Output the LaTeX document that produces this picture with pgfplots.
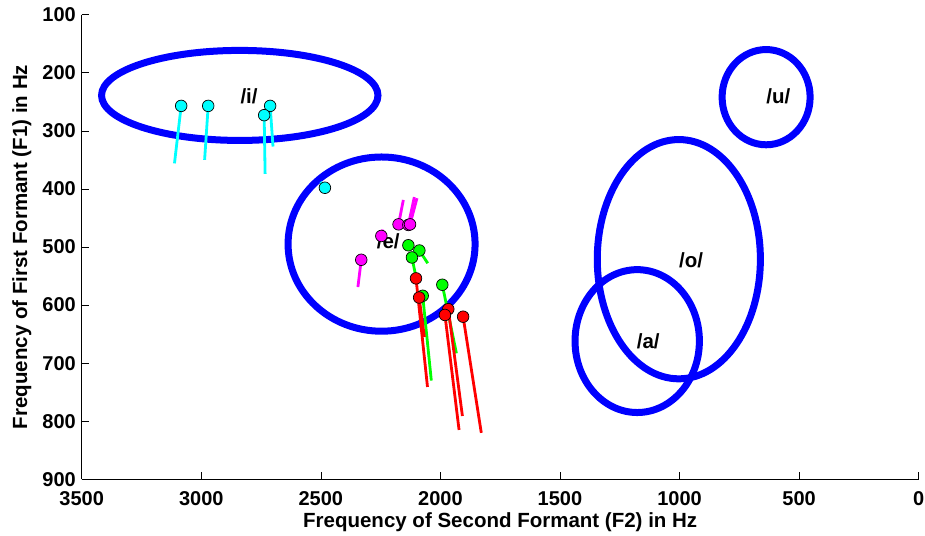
\documentclass[border=0pt]{standalone}
\usepackage{fontspec}
\setmainfont{Liberation Sans}
\usepackage{pgfplots}
\pgfplotsset{compat=1.18}
\definecolor{cB}{RGB}{0,0,255}
\definecolor{cC}{RGB}{0,255,255}
\definecolor{cM}{RGB}{255,0,255}
\definecolor{cG}{RGB}{0,255,0}
\definecolor{cR}{RGB}{255,0,0}
\newcommand{\tickfont}{\bfseries\fontsize{20}{24}\selectfont}
\newcommand{\labfont}{\bfseries\fontsize{20.5}{24}\selectfont}
\begin{document}
\begin{tikzpicture}
\begin{axis}[
  name=ax,
  scale only axis, width=837pt, height=464.6pt,
  xmin=0, xmax=3500, ymin=100, ymax=900,
  x dir=reverse, y dir=reverse,
  axis x line*=bottom, axis y line*=left,
  axis line style={-, black, line width=0.8pt},
  tick align=inside,
  major tick length=7pt,
  tick style={black, line width=0.6pt},
  xtick={0,500,...,3500}, ytick={100,200,...,900},
  scaled ticks=false,
  /pgf/number format/1000 sep={},
  /pgf/number format/assume math mode=true,
  xticklabel style={font=\tickfont, anchor=north, inner sep=0pt, yshift=-12pt},
  yticklabel style={font=\tickfont, anchor=east, inner sep=0pt, xshift=-5.7pt},
  xlabel={Frequency of Second Formant (F2) in Hz},
  ylabel={Frequency of First Formant (F1) in Hz},
  xlabel style={font=\labfont, at={([yshift=-33.5pt]axis description cs:0.5,0)}, anchor=north, inner sep=0pt},
  ylabel style={font=\labfont, at={([xshift=-50pt]axis description cs:0,0.5)}, anchor=south, inner sep=0pt},
]
% vowel ellipses
\draw[cB, line width=7pt] (axis cs:2839,239) ellipse [x radius=578, y radius=77.5];
\draw[cB, line width=7pt] (axis cs:2246,495) ellipse [x radius=391, y radius=150];
\draw[cB, line width=7pt] (axis cs:638,242) ellipse [x radius=184, y radius=82];
\draw[cB, line width=7pt] (axis cs:1003,521) ellipse [x radius=341, y radius=206];
\draw[cB, line width=7pt] (axis cs:1177,662) ellipse [x radius=260, y radius=123];
% tails
\addplot[cC, line width=2.8pt] coordinates {(3084,257) (3112,356)};
\addplot[cC, line width=2.8pt] coordinates {(2971,257) (2986,350)};
\addplot[cC, line width=2.8pt] coordinates {(2712,257) (2700,327)};
\addplot[cC, line width=2.8pt] coordinates {(2737,273) (2733,374)};
\addplot[cC, line width=2.8pt] coordinates {(2483,398) (2501,388)};
\addplot[cM, line width=2.8pt] coordinates {(2175,461) (2155,419)};
\addplot[cM, line width=2.8pt] coordinates {(2127,461) (2098,416)};
\addplot[cM, line width=2.8pt] coordinates {(2134,462) (2109,414)};
\addplot[cM, line width=2.8pt] coordinates {(2247,481) (2241,470)};
\addplot[cM, line width=2.8pt] coordinates {(2331,522) (2345,569)};
\addplot[cG, line width=2.8pt] coordinates {(2134,497) (2132,500)};
\addplot[cG, line width=2.8pt] coordinates {(2088,506) (2053,528)};
\addplot[cG, line width=2.8pt] coordinates {(2119,518) (2103,550)};
\addplot[cG, line width=2.8pt] coordinates {(1992,565) (1933,683)};
\addplot[cG, line width=2.8pt] coordinates {(2074,584) (2038,730)};
\addplot[cR, line width=2.8pt] coordinates {(2102,554) (2054,741)};
\addplot[cR, line width=2.8pt] coordinates {(2089,587) (2067,655)};
\addplot[cR, line width=2.8pt] coordinates {(1967,607) (1908,791)};
\addplot[cR, line width=2.8pt] coordinates {(1981,617) (1922,815)};
\addplot[cR, line width=2.8pt] coordinates {(1905,620) (1829,820)};
% markers
\addplot[only marks, mark=*, mark size=5.8pt, mark options={fill=cC, draw=black, line width=0.7pt}]
  coordinates {(3084,257) (2971,257) (2712,257) (2737,273) (2483,398)};
\addplot[only marks, mark=*, mark size=5.8pt, mark options={fill=cM, draw=black, line width=0.7pt}]
  coordinates {(2175,461) (2134,462) (2127,461) (2247,481) (2331,522)};
\addplot[only marks, mark=*, mark size=5.8pt, mark options={fill=cG, draw=black, line width=0.7pt}]
  coordinates {(2134,497) (2088,506) (2119,518) (1992,565) (2074,584)};
\addplot[only marks, mark=*, mark size=5.8pt, mark options={fill=cR, draw=black, line width=0.7pt}]
  coordinates {(2102,554) (2089,587) (1967,607) (1981,617) (1905,620)};
% labels
\node[font=\labfont] at (axis cs:2800,241) {/i/};
\node[font=\labfont] at (axis cs:2218,491) {/e/};
\node[font=\labfont] at (axis cs:587,241) {/u/};
\node[font=\labfont] at (axis cs:952,522) {/o/};
\node[font=\labfont] at (axis cs:1131,662) {/a/};
\end{axis}
\pgfresetboundingbox
\path ([xshift=-81.7pt,yshift=-55.7pt]ax.south west) rectangle ([xshift=6.3pt,yshift=14.7pt]ax.north east);
\end{tikzpicture}
\end{document}
